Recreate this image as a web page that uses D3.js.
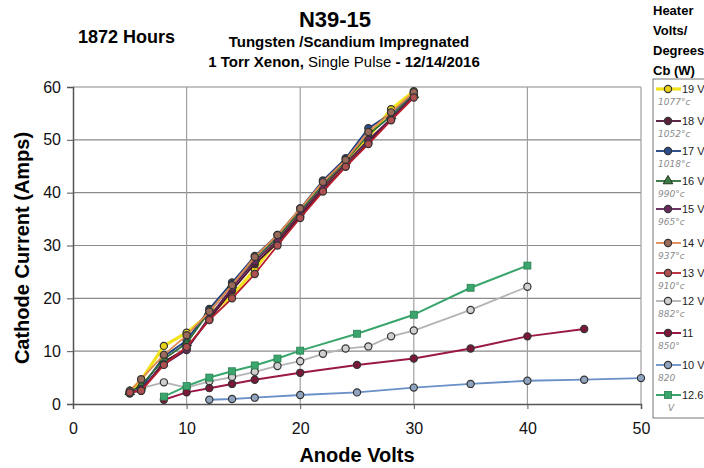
<!DOCTYPE html>
<html>
<head>
<meta charset="utf-8">
<script src="https://cdn.jsdelivr.net/npm/d3@7.9.0/dist/d3.min.js"></script>
<style>
  body { margin: 0; background: #fff; }
  svg { font-family: "Liberation Sans", Arial, sans-serif; }
</style>
</head>
<body>
<svg id="chart" width="704" height="468"></svg>
<script>
// Anode volts / cathode amps
const v19 = [[5,2.3],[6,4.5],[8,11.0],[10,13.5],[12,17.0],[14,20.5],[16,25.5],[18,31.0],[20,36.0],[22,41.0],[24,45.5],[26,50.5],[28,55.8],[30,59.2]];
const v18 = [[5,2.2],[6,2.5],[8,8.0],[10,10.5],[12,16.0],[14,21.5],[16,26.5],[18,30.5],[20,35.5],[22,40.5],[24,45.0],[26,49.5],[28,54.0],[30,58.5]];
const v17 = [[5,2.0],[6,3.0],[8,9.0],[10,12.0],[12,18.0],[14,23.0],[16,28.0],[18,32.0],[20,37.0],[22,42.3],[24,46.5],[26,52.2],[28,55.0],[30,58.8]];
const v16 = [[5,2.3],[6,3.5],[8,8.5],[10,11.5],[12,17.5],[14,22.5],[16,27.5],[18,31.5],[20,36.5],[22,41.5],[24,46.0],[26,51.0],[28,54.5],[30,58.5]];
const v15 = [[5,2.1],[6,2.8],[8,7.5],[10,10.2],[12,16.5],[14,22.0],[16,27.0],[18,31.0],[20,36.0],[22,41.0],[24,45.5],[26,50.0],[28,54.0],[30,58.3]];
const v14 = [[5,2.5],[6,4.7],[8,9.3],[10,13.0],[12,17.5],[14,22.5],[16,27.8],[18,32.0],[20,37.0],[22,42.0],[24,46.2],[26,51.5],[28,55.2],[30,59.0]];
const v13 = [[5,2.2],[6,2.5],[8,7.4],[10,10.8],[12,15.9],[14,20.0],[16,24.6],[18,30.0],[20,35.2],[22,40.2],[24,44.9],[26,49.2],[28,53.7],[30,58.0]];
const v12 = [[6,3.0],[8,4.1],[10,3.1],[12,4.3],[14,5.1],[16,6.1],[18,7.2],[20,8.1],[22,9.5],[24,10.5],[26,10.9],[28,12.8],[30,13.9],[35,17.8],[40,22.2]];
const v11 = [[8,0.8],[10,2.2],[12,3.0],[14,3.8],[16,4.6],[20,5.9],[25,7.4],[30,8.6],[35,10.5],[40,12.8],[45,14.2]];
const v10 = [[12,0.8],[14,0.95],[16,1.2],[20,1.7],[25,2.2],[30,3.1],[35,3.8],[40,4.4],[45,4.6],[50,4.9]];
const v126 = [[8,1.4],[10,3.4],[12,5.0],[14,6.2],[16,7.3],[18,8.6],[20,10.1],[25,13.3],[30,16.9],[35,22.0],[40,26.2]];

const legendLabels = ['19 V', '18 V', '17 V', '16 V', '15 V', '14 V', '13 V', '12 V', '11', '10 V', '12.6'];
const legendNotes = ['1077°c', '1052°c', '1018°c', '990°c', '965°c', '937°c', '910°c', '882°c', '850°', '820', 'V'];
const xTicks = [0, 10, 20, 30, 40, 50];
const yTicks = [0, 10, 20, 30, 40, 50, 60];

const series = [
  { name: '19 V', data: v19, line: '#f2e21c', fill: '#e8d21a', shape: 'circle', width: 3.2 },
  { name: '18 V', data: v18, line: '#4a1030', fill: '#5a2038', shape: 'circle', width: 1.8 },
  { name: '17 V', data: v17, line: '#1d3c80', fill: '#2a4c90', shape: 'circle', width: 1.8 },
  { name: '16 V', data: v16, line: '#2f6a3a', fill: '#3a7a40', shape: 'triangle', width: 1.8 },
  { name: '15 V', data: v15, line: '#5c1d52', fill: '#6a2a5c', shape: 'circle', width: 1.8 },
  { name: '14 V', data: v14, line: '#e08a50', fill: '#9a6a5a', shape: 'circle', width: 1.8 },
  { name: '13 V', data: v13, line: '#b8202e', fill: '#b05050', shape: 'circle', width: 1.8 },
  { name: '12 V', data: v12, line: '#b4b4b4', fill: '#d0d0d0', shape: 'circle', width: 1.8 },
  { name: '11', data: v11, line: '#9a1848', fill: '#7a1838', shape: 'circle', width: 2 },
  { name: '10 V', data: v10, line: '#6a90c8', fill: '#90a4c0', shape: 'circle', width: 1.8 },
  { name: '12.6', data: v126, line: '#3aa56c', fill: '#3aa56c', shape: 'square', width: 2 }
];

const svg = d3.select('#chart');
const x = d3.scaleLinear().domain([0, 50]).range([73, 641]);
const y = d3.scaleLinear().domain([0, 60]).range([404, 87]);

// grid
svg.append('g').selectAll('line').data(yTicks.slice(1)).join('line')
  .attr('x1', x(0)).attr('x2', x(50))
  .attr('y1', d => y(d)).attr('y2', d => y(d))
  .attr('stroke', '#8a8a8a').attr('stroke-width', 1.2);
svg.append('g').selectAll('line').data(xTicks.slice(1)).join('line')
  .attr('x1', d => x(d)).attr('x2', d => x(d))
  .attr('y1', y(0)).attr('y2', y(60))
  .attr('stroke', '#a0a0a0').attr('stroke-width', 1.2);

// axes
const xAxis = svg.append('g').attr('transform', `translate(0,${y(0)})`)
  .call(d3.axisBottom(x).tickValues(xTicks).tickSize(5).tickPadding(14));
const yAxis = svg.append('g').attr('transform', `translate(${x(0)},0)`)
  .call(d3.axisLeft(y).tickValues(yTicks).tickSize(6).tickPadding(6));
[xAxis, yAxis].forEach(a => {
  a.select('.domain').attr('stroke', '#555').attr('stroke-width', 1.5);
  a.selectAll('.tick line').attr('stroke', '#555');
  a.selectAll('.tick text').attr('font-size', 16).attr('fill', '#111')
    .attr('font-family', '"Liberation Sans", Arial, sans-serif');
});

const line = d3.line().x(d => x(d[0])).y(d => y(d[1]));

function drawMarker(g, shape, cx, cy, fill) {
  if (shape === 'square') {
    g.append('rect').attr('x', cx - 3.5).attr('y', cy - 3.5).attr('width', 7).attr('height', 7)
      .attr('fill', fill).attr('stroke', '#2a8050').attr('stroke-width', 0.8);
  } else if (shape === 'triangle') {
    g.append('path').attr('d', d3.symbol().type(d3.symbolTriangle).size(40)())
      .attr('transform', `translate(${cx},${cy})`)
      .attr('fill', fill).attr('stroke', '#1f3a22').attr('stroke-width', 1);
  } else {
    g.append('circle').attr('cx', cx).attr('cy', cy).attr('r', 3.6)
      .attr('fill', fill).attr('stroke', '#333').attr('stroke-width', 1.2);
  }
}

// lower series first, then the dense cluster
const drawOrder = [7, 8, 9, 10, 0, 1, 2, 3, 4, 5, 6];
drawOrder.forEach(i => {
  const s = series[i];
  const g = svg.append('g');
  g.append('path').datum(s.data).attr('d', line)
    .attr('fill', 'none').attr('stroke', s.line).attr('stroke-width', s.width)
    .attr('stroke-linejoin', 'round');
  s.data.forEach(d => drawMarker(g, s.shape, x(d[0]), y(d[1]), s.fill));
});

// titles
svg.append('text').attr('x', 335).attr('y', 27).attr('text-anchor', 'middle')
  .attr('font-size', 22).attr('font-weight', 'bold').text('N39-15');
svg.append('text').attr('x', 349).attr('y', 47).attr('text-anchor', 'middle')
  .attr('font-size', 15).attr('font-weight', 'bold').text('Tungsten /Scandium Impregnated');
const sub = svg.append('text').attr('x', 344).attr('y', 67).attr('text-anchor', 'middle')
  .attr('font-size', 15).attr('font-weight', 'bold');
sub.append('tspan').text('1 Torr Xenon, ');
sub.append('tspan').attr('font-weight', 'normal').text('Single Pulse');
sub.append('tspan').text('  - 12/14/2016');
svg.append('text').attr('x', 78).attr('y', 43)
  .attr('font-size', 18).attr('font-weight', 'bold').text('1872 Hours');

// axis titles
svg.append('text').attr('x', 357).attr('y', 462).attr('text-anchor', 'middle')
  .attr('font-size', 20).attr('font-weight', 'bold').text('Anode Volts');
svg.append('text').attr('transform', 'translate(29,248) rotate(-90)').attr('text-anchor', 'middle')
  .attr('font-size', 20).attr('font-weight', 'bold').text('Cathode Current (Amps)');

// legend
['Heater', 'Volts/', 'Degrees', 'Cb (W)'].forEach((t, i) => {
  svg.append('text').attr('x', 653).attr('y', 15 + i * 20)
    .attr('font-size', 13).attr('font-weight', 'bold').text(t);
});
svg.append('rect').attr('x', 653).attr('y', 79).attr('width', 60).attr('height', 339)
  .attr('fill', 'none').attr('stroke', '#777').attr('stroke-width', 1);

const legendY = [89, 121, 151, 181, 209, 243, 273, 301, 333, 365, 395];
legendLabels.forEach((lab, i) => {
  const s = series[i];
  const g = svg.append('g');
  const ly = legendY[i];
  g.append('line').attr('x1', 656).attr('x2', 681).attr('y1', ly).attr('y2', ly)
    .attr('stroke', s.line).attr('stroke-width', s.width);
  drawMarker(g, s.shape, 668, ly, s.fill);
  g.append('text').attr('x', 682).attr('y', ly + 4).attr('font-size', 11).attr('fill', '#222').text(lab);
  g.append('text').attr('x', i === 10 ? 668 : 658).attr('y', ly + 16)
    .attr('font-size', 9).attr('font-style', 'italic').attr('fill', '#8a8a8a')
    .attr('font-family', '"DejaVu Sans", sans-serif').text(legendNotes[i]);
});
</script>
</body>
</html>
